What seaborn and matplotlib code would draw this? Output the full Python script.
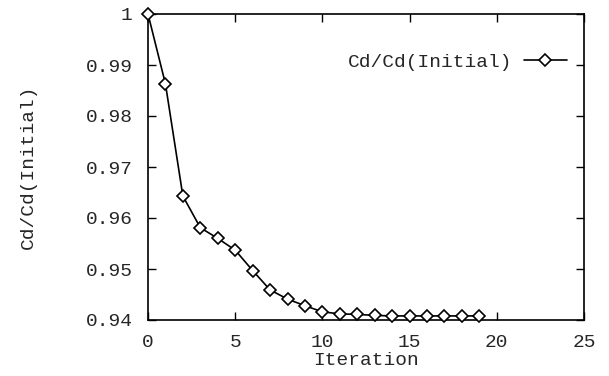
import numpy as np
import pandas as pd
import seaborn as sns
import matplotlib
matplotlib.use('Agg')
import matplotlib.pyplot as plt

# Values
iteration = list(range(20))
cd_ratio = [1.0, 0.9863, 0.9643, 0.9581, 0.9560, 0.9537, 0.9497, 0.9459,
            0.9441, 0.9428, 0.9416, 0.9412, 0.9411, 0.9409, 0.9408, 0.9408,
            0.9408, 0.9408, 0.9408, 0.9408]
x_ticks = [0, 5, 10, 15, 20, 25]
y_ticks = [0.94, 0.95, 0.96, 0.97, 0.98, 0.99, 1.0]
y_tick_labels = ['0.94', '0.95', '0.96', '0.97', '0.98', '0.99', '1']

df = pd.DataFrame({'Iteration': iteration, 'Cd/Cd(Initial)': cd_ratio})

sns.set_style('ticks')
plt.rcParams['font.family'] = ['Liberation Mono', 'DejaVu Sans Mono']

fig = plt.figure(figsize=(6.09, 3.76), dpi=100)
ax = fig.add_axes([148 / 609, 1 - 320 / 376, 436 / 609, 306 / 376])

_ = sns.lineplot(data=df, x='Iteration', y='Cd/Cd(Initial)', ax=ax,
                 color='black', linewidth=1.2, marker='D', markersize=6.5,
                 markerfacecolor='white', markeredgecolor='black',
                 markeredgewidth=1.2, label='Cd/Cd(Initial)', clip_on=False,
                 zorder=5)

ax.set_xlim(0, 25)
ax.set_ylim(0.94, 1.0)
ax.set_xticks(x_ticks)
ax.set_yticks(y_ticks)
ax.set_yticklabels(y_tick_labels)
ax.tick_params(direction='in', length=6, width=1, labelsize=14, color='black',
               top=True, right=True)
ax.tick_params(axis='y', pad=11)
ax.tick_params(axis='x', pad=10)
for s in ax.spines.values():
    s.set_linewidth(1.2)
    s.set_color('black')

ax.set_xlabel('Iteration', fontsize=14, labelpad=1)
ax.set_ylabel('Cd/Cd(Initial)', fontsize=14, labelpad=35)

leg = ax.legend(loc='upper right', frameon=False, fontsize=14,
                markerfirst=False, handlelength=2.2, handletextpad=0.6,
                bbox_to_anchor=(1.0, 0.93))

fig.savefig('out.png', dpi=100)
